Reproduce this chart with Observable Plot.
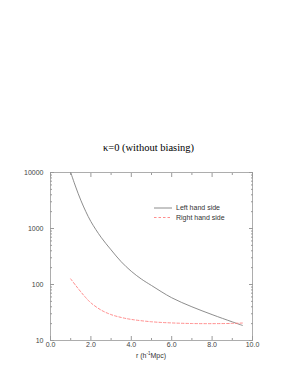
<!DOCTYPE html>
<html>
<head>
<meta charset="utf-8">
<script src="https://cdn.jsdelivr.net/npm/d3@7"></script>
<script src="https://cdn.jsdelivr.net/npm/@observablehq/plot@0.6"></script>
<style>
  html, body { margin: 0; padding: 0; background: #fff; }
  #wrap { position: relative; width: 295px; height: 382px; overflow: hidden; }
  #title { position: absolute; left: 0; width: 297px; top: 142px; text-align: center;
           font-family: "Liberation Serif", "DejaVu Serif", serif; font-size: 10.5px; color: #000; }
  #xlabel { position: absolute; left: 0; width: 302px; top: 351px; text-align: center;
            font-family: "Liberation Sans", Arial, sans-serif; font-size: 7px; color: #333; }
  #xlabel sup { font-size: 4.5px; vertical-align: 3px; }
  #legend { position: absolute; left: 150px; top: 203px; }
  #chart { position: absolute; left: 0; top: 0; }
</style>
</head>
<body>
<div id="wrap">
  <div id="chart"></div>
  <div id="title">κ=0 (without biasing)</div>
  <div id="xlabel">r (h<sup>-1</sup>Mpc)</div>
  <svg id="legend" width="100" height="22"></svg>
</div>
<script>
// ---- data ----
const rLeft    = [1.0, 1.25, 1.5, 1.75, 2.0, 2.5, 3.0, 3.5, 4.0, 4.5, 5.0, 6.0, 7.0, 8.0, 9.0, 9.5];
const leftHand = [10000, 5500, 3200, 2000, 1330, 700, 415, 255, 172, 125, 96, 58, 40, 29, 21.5, 18.6];
const rRight    = [1.0, 1.25, 1.5, 1.75, 2.0, 2.5, 3.0, 3.5, 4.0, 5.0, 6.0, 7.0, 8.0, 9.0, 9.5];
const rightHand = [126, 96, 74, 58, 47, 35, 29, 25.8, 23.8, 21.6, 20.6, 20.1, 20, 20.2, 20.5];

const xMajorTicks = [0, 2, 4, 6, 8, 10];
const xMinorTicks = [1, 3, 5, 7, 9];
const yMajorTicks = [10, 100, 1000, 10000];
const yMinorTicks = [20,30,40,50,60,70,80,90,200,300,400,500,600,700,800,900,2000,3000,4000,5000,6000,7000,8000,9000];

const seriesNames = ["Left hand side", "Right hand side"];

const leftData = rLeft.map((r, i) => ({r, v: leftHand[i]}));
const rightData = rRight.map((r, i) => ({r, v: rightHand[i]}));

const axisColor = "#9a9a9a";
const lineColor = "#808080";
const redColor = "#ff8080";
const fmtX = d3.format(".1f");
const empty = () => "";

const chart = Plot.plot({
  width: 295,
  height: 382,
  marginLeft: 50,
  marginRight: 43,
  marginTop: 172,
  marginBottom: 42,
  style: {fontFamily: "Liberation Sans, Arial, sans-serif", fontSize: "7px", color: "#333", background: "transparent"},
  x: {domain: [0, 10]},
  y: {type: "log", domain: [10, 10000]},
  marks: [
    Plot.frame({stroke: axisColor, strokeWidth: 0.8}),
    Plot.axisX(xMajorTicks, {anchor: "bottom", tickSize: -4, tickPadding: 6, tickFormat: fmtX, stroke: axisColor, label: null, fill: "#444"}),
    Plot.axisX(xMinorTicks, {anchor: "bottom", tickSize: -2, tickFormat: empty, stroke: axisColor, label: null}),
    Plot.axisX(xMajorTicks, {anchor: "top", tickSize: -4, tickFormat: empty, stroke: axisColor, label: null}),
    Plot.axisX(xMinorTicks, {anchor: "top", tickSize: -2, tickFormat: empty, stroke: axisColor, label: null}),
    Plot.axisY(yMajorTicks, {anchor: "left", tickSize: -4, tickPadding: 11, tickFormat: d => String(d), stroke: axisColor, label: null, fill: "#444"}),
    Plot.axisY(yMinorTicks, {anchor: "left", tickSize: -2, tickFormat: empty, stroke: axisColor, label: null}),
    Plot.axisY(yMajorTicks, {anchor: "right", tickSize: -4, tickFormat: empty, stroke: axisColor, label: null}),
    Plot.axisY(yMinorTicks, {anchor: "right", tickSize: -2, tickFormat: empty, stroke: axisColor, label: null}),
    Plot.line(leftData, {x: "r", y: "v", stroke: lineColor, strokeWidth: 0.9, curve: "catmull-rom"}),
    Plot.line(rightData, {x: "r", y: "v", stroke: redColor, strokeWidth: 0.9, strokeDasharray: "2.5,2", curve: "catmull-rom"})
  ]
});
document.getElementById("chart").appendChild(chart);

// legend
const leg = d3.select("#legend");
const styles = [{stroke: lineColor, dash: null}, {stroke: redColor, dash: "2.5,2"}];
seriesNames.forEach((name, i) => {
  const g = leg.append("g").attr("transform", `translate(0,${5 + i * 9.5})`);
  g.append("line").attr("x1", 4).attr("x2", 22).attr("y1", 0).attr("y2", 0)
    .attr("stroke", styles[i].stroke).attr("stroke-width", 0.9)
    .attr("stroke-dasharray", styles[i].dash);
  g.append("text").attr("x", 26).attr("y", 0).attr("dy", "0.35em")
    .attr("font-family", "Liberation Sans, Arial, sans-serif").attr("font-size", 7).attr("fill", "#333")
    .text(name);
});
</script>
</body>
</html>
